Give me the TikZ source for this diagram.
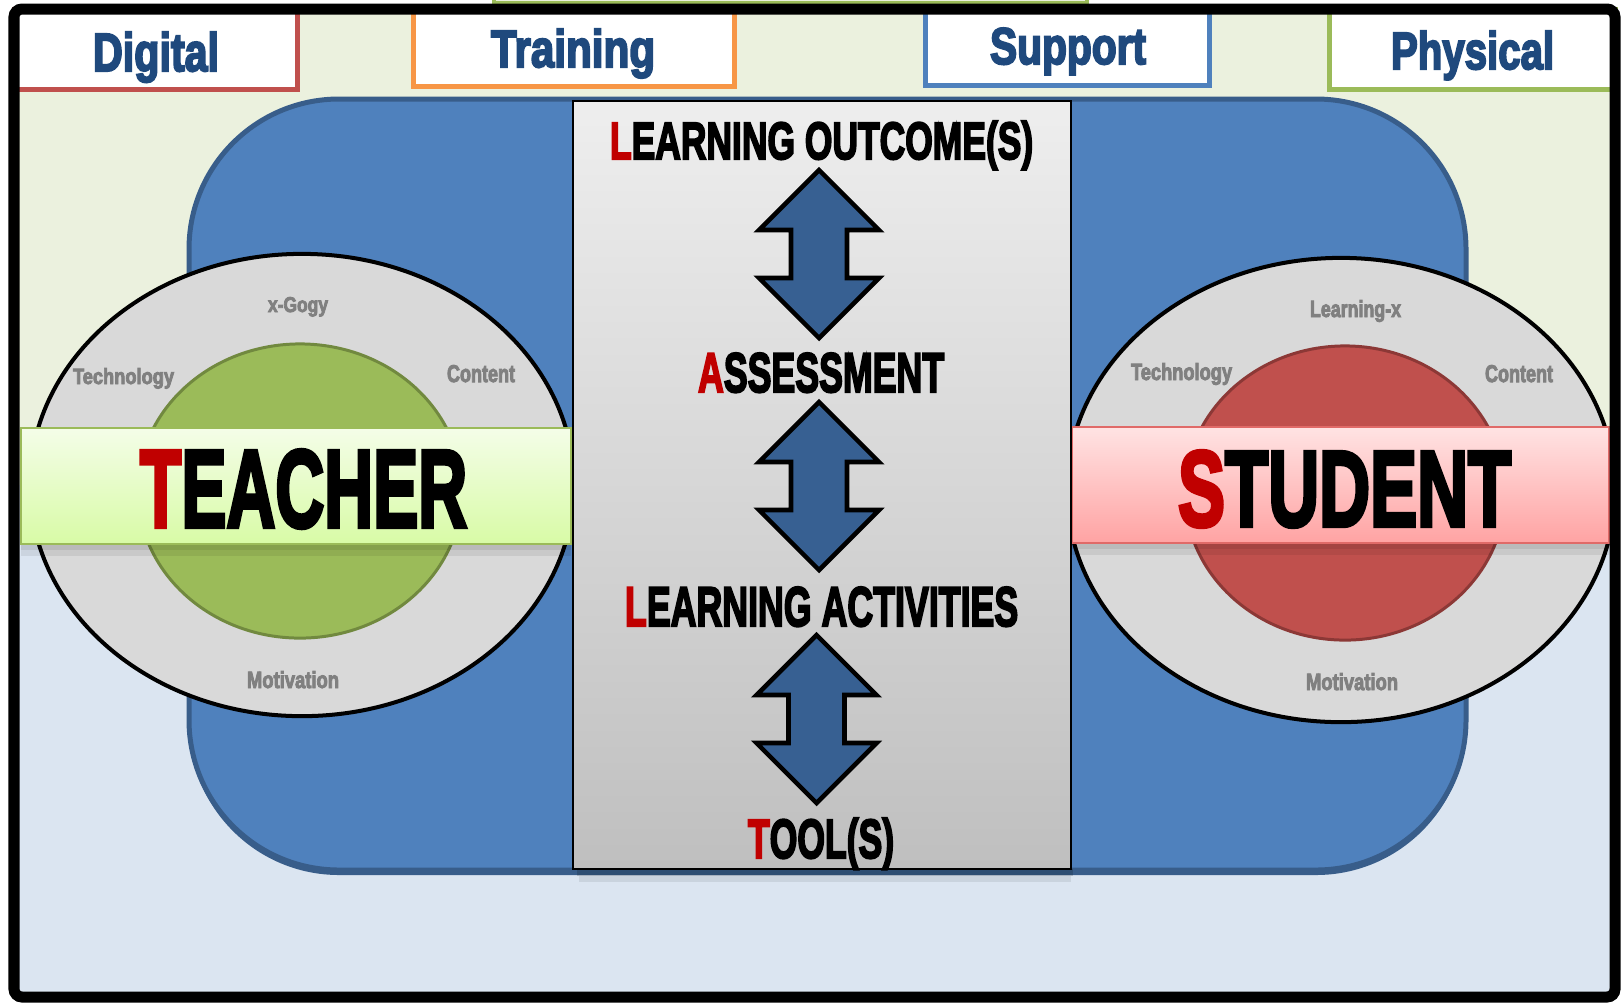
\documentclass[tikz,border=0pt]{standalone}
\usepackage{fontspec}
\usepackage{graphicx}
\newfontfamily\imp[UprightFont={* Bold},FakeBold=4]{Liberation Sans}
\definecolor{labelblue}{HTML}{1F497D}
\definecolor{lblgray}{HTML}{808080}
\definecolor{redl}{HTML}{C00000}
\definecolor{arrowblue}{HTML}{376092}
\definecolor{bigblue}{HTML}{4F81BD}
\definecolor{bigblueborder}{HTML}{385D8A}
\definecolor{ellgray}{HTML}{D9D9D9}
\definecolor{tgreen}{HTML}{9BBB59}
\definecolor{tgreenborder}{HTML}{71893F}
\definecolor{sred}{HTML}{C0504D}
\definecolor{sredborder}{HTML}{8C3836}
\definecolor{tbandtop}{HTML}{F4FDE8}
\definecolor{tbandbot}{HTML}{D8FBA6}
\definecolor{sbandtop}{HTML}{FFE3E3}
\definecolor{sbandbot}{HTML}{FFA3A3}
\definecolor{sbandborder}{HTML}{E06A68}
\definecolor{cgraytop}{HTML}{EEEEEE}
\definecolor{cgraybot}{HTML}{BFBFBF}
\definecolor{bggreen}{HTML}{EBF1DE}
\definecolor{bgblue}{HTML}{DBE5F1}
\definecolor{digred}{HTML}{C0504D}
\definecolor{trainorange}{HTML}{F79646}
\definecolor{supblue}{HTML}{4F81BD}
\definecolor{physgreen}{HTML}{9BBB59}
\definecolor{peekgreen}{HTML}{EBF1DE}
\newcommand\fit[3]{\resizebox{#1cm}{#2cm}{\imp #3}}
\newcommand\rl[1]{\textcolor{redl}{#1}}
\begin{document}
\begin{tikzpicture}[x=0.01cm,y=-0.01cm,
  lbl/.style={inner sep=0pt,outer sep=0pt,anchor=base west},
  toplbl/.style={lbl,text=labelblue},
  ringlbl/.style={lbl,text=lblgray},
  bigtxt/.style={lbl,text=black},
  topbox/.style={fill=white,line width=1.42pt},
  arrowshape/.style={fill=arrowblue,draw=black,line width=1.3pt,line join=miter},
  udarrow/.pic={\draw[arrowshape] (0,0) -- (60,60) -- (28,60) -- (28,108) -- (60,108) -- (0,168) -- (-60,108) -- (-28,108) -- (-28,60) -- (-60,60) -- cycle;}
]
\useasboundingbox (0,0) rectangle (1622,1002);
\fill[white] (0,0) rectangle (1622,1002);
% peeking box at top
\draw[fill=peekgreen,draw=physgreen,line width=1.14pt] (494,-10) rectangle (1087,3);
% background halves
\fill[bggreen] (14,9) rectangle (1615,485);
\fill[bgblue] (14,485) rectangle (1615,997);
% top boxes
\draw[topbox,draw=digred] (14,9) rectangle (297,89);
\draw[topbox,draw=trainorange] (413.5,9) rectangle (734.5,86.5);
\draw[topbox,draw=supblue] (925.5,9) rectangle (1209,85);
\draw[topbox,draw=physgreen] (1329.5,9) rectangle (1615,89);
\node[toplbl] (digital) at (93,71) {\fit{1.26}{0.39}{Digital}};
\node[toplbl] (training) at (491,67) {\fit{1.64}{0.38}{Training}};
\node[toplbl] (support) at (990,64) {\fit{1.56}{0.36}{Support}};
\node[toplbl] (physical) at (1391,69) {\fit{1.63}{0.38}{Physical}};
% big blue rounded rectangle
\fill[bigblueborder,rounded corners=1.5cm] (189,104) rectangle (1466,875);
\draw[fill=bigblue,draw=bigblueborder,line width=1.42pt,rounded corners=1.5cm] (189,99) rectangle (1466,870);
% teacher ring
\draw[fill=ellgray,line width=1.14pt] (302,485) ellipse [x radius=2.72cm,y radius=2.31cm];
\draw[fill=tgreen,draw=tgreenborder,line width=0.85pt] (300,491) ellipse [x radius=1.62cm,y radius=1.47cm];
% student ring
\draw[fill=ellgray,line width=1.14pt] (1341,490) ellipse [x radius=2.74cm,y radius=2.32cm];
\draw[fill=sred,draw=sredborder,line width=0.85pt] (1345,493) ellipse [x radius=1.60cm,y radius=1.47cm];
% band shadows
\fill[black,opacity=0.14] (21,544) rectangle (571,550);
\fill[black,opacity=0.07] (21,550) rectangle (571,556);
\fill[black,opacity=0.14] (1072,543) rectangle (1609,549);
\fill[black,opacity=0.07] (1072,549) rectangle (1609,555);
% bands
\draw[top color=tbandtop,bottom color=tbandbot,draw=tgreen,line width=0.57pt] (21,428) rectangle (571,544);
\draw[top color=sbandtop,bottom color=sbandbot,draw=sbandborder,line width=0.57pt] (1072,427) rectangle (1609,543);
% ring labels teacher
\node[ringlbl] (txgogy) at (268,312) {\fit{0.60}{0.15}{x-Gogy}};
\node[ringlbl] (ttech) at (73,384) {\fit{1.01}{0.16}{Technology}};
\node[ringlbl] (tcont) at (447,382) {\fit{0.68}{0.17}{Content}};
\node[ringlbl] (tmot) at (247,688) {\fit{0.92}{0.17}{Motivation}};
% ring labels student
\node[ringlbl] (slearn) at (1310,317) {\fit{0.91}{0.17}{Learning-x}};
\node[ringlbl] (stech) at (1131,380) {\fit{1.01}{0.17}{Technology}};
\node[ringlbl] (scont) at (1485,382) {\fit{0.68}{0.17}{Content}};
\node[ringlbl] (smot) at (1306,690) {\fit{0.92}{0.17}{Motivation}};
% big names
\node[bigtxt] (teacher) at (140,527) {\fit{3.27}{0.77}{\rl{T}EACHER}};
\node[bigtxt] (student) at (1178,526) {\fit{3.33}{0.75}{\rl{S}TUDENT}};
% central panel
\fill[black,opacity=0.16] (577,869) rectangle (1073,876);
\fill[black,opacity=0.08] (579,876) rectangle (1071,882);
\draw[top color=cgraytop,bottom color=cgraybot,draw=black,line width=0.57pt] (573,101) rectangle (1071,869);
\node[bigtxt] (lo) at (610,159) {\fit{4.23}{0.38}{\rl{L}EARNING OUTCOME(S)}};
\node[bigtxt] (as) at (698,392) {\fit{2.46}{0.39}{\rl{A}SSESSMENT}};
\node[bigtxt] (la) at (625,626) {\fit{3.93}{0.39}{\rl{L}EARNING ACTIVITIES}};
\node[bigtxt] (tl) at (748,858) {\fit{1.46}{0.40}{\rl{T}OOL(S)}};
% arrows
\pic at (819,170) {udarrow};
\pic at (819,402) {udarrow};
\pic at (816.5,635) {udarrow};
% outer frame
\draw[line width=3.13pt,rounded corners=0.08cm] (14,9) rectangle (1615,997);
\end{tikzpicture}
\end{document}
